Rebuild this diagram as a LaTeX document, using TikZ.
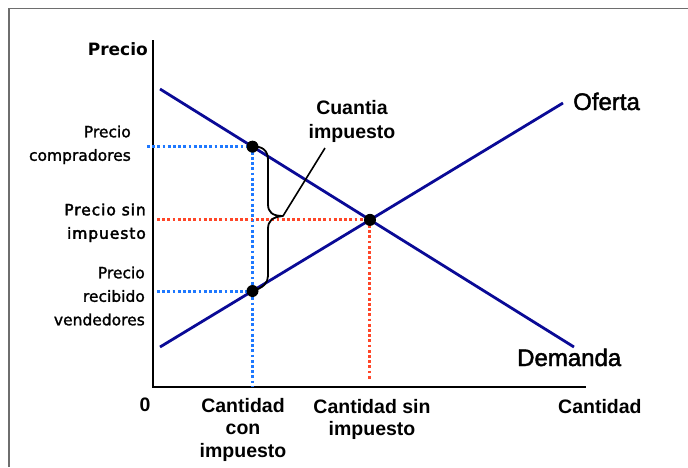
\documentclass[tikz,border=0pt]{standalone}
\usepackage{fontspec}
\setmainfont{Liberation Sans}
\newfontfamily\dejavu{DejaVu Sans}
\newfontfamily\dejavumed[FakeBold=1.5]{DejaVu Sans}
\newfontfamily\dejavusp[FakeBold=2.5,LetterSpace=6]{DejaVu Sans}
\newfontfamily\libmed[FakeBold=1.8]{Liberation Sans}
\usetikzlibrary{intersections}
\definecolor{curvecol}{RGB}{10,10,150}
\definecolor{bluedotcol}{RGB}{30,120,255}
\definecolor{reddotcol}{RGB}{255,70,40}
\definecolor{framecol}{RGB}{110,110,110}
\tikzset{
  framestyle/.style={draw=framecol, line width=1.6pt},
  axisstyle/.style={draw=black, line width=2.6pt},
  curvestyle/.style={draw=curvecol, line width=2.8pt},
  bluedots/.style={draw=bluedotcol, line width=3pt, dash pattern=on 2.8pt off 2.4pt},
  reddots/.style={draw=reddotcol, line width=3pt, dash pattern=on 2.8pt off 2.4pt},
  ptdot/.style={circle, fill=black, inner sep=0pt, minimum size=12pt},
  bracestyle/.style={draw=black, line width=1.8pt, line join=round},
  leftlbl/.style={font=\dejavumed\fontsize{15.5}{23.5}\selectfont, align=right, anchor=north east, inner sep=0pt},
  leftlblb/.style={font=\dejavusp\fontsize{15.5}{23.5}\selectfont, align=right, anchor=north east, inner sep=0pt},
  botlbl/.style={font=\bfseries\fontsize{19.5}{22.5}\selectfont, align=center, anchor=north, inner sep=0pt},
  biglbl/.style={font=\libmed\fontsize{24}{28}\selectfont, anchor=base west, inner sep=0pt}
}
\begin{document}
\begin{tikzpicture}[x=1pt,y=-1pt]
\useasboundingbox (0,0) rectangle (688,467);
% frame
\draw[framestyle] (9,467) -- (9,8.5) -- (688,8.5);
% axes
\coordinate (ytop) at (153,40);
\coordinate (orig) at (153,387);
\coordinate (xend) at (586,387);
\draw[axisstyle] (ytop) -- (orig) -- (xend);
% curves
\coordinate (d1) at (160,89);
\coordinate (d2) at (574,347);
\coordinate (s1) at (160,347);
\coordinate (s2) at (563,103);
\draw[curvestyle, name path=dem] (d1) -- (d2);
\draw[curvestyle, name path=sup] (s1) -- (s2);
\path[name path=vq] (252.5,60) -- (252.5,400);
\path[name intersections={of=dem and sup, by=e}];
\path[name intersections={of=dem and vq, by=a}];
\path[name intersections={of=sup and vq, by=b}];
% guide coordinates
\coordinate (bl1) at (147,0);
\coordinate (bl2) at (157,0);
\coordinate (rl) at (157,0);
\coordinate (rbot) at (0,380);
% dotted lines
\draw[bluedots] (bl1 |- a) -- (a);
\draw[bluedots] (a) -- (a |- orig);
\draw[bluedots] (bl2 |- b) -- (b);
\draw[reddots] (rl |- e) -- (e);
\draw[reddots] (e) -- (e |- rbot);
% points
\node[ptdot] (A) at (a) {};
\node[ptdot] (B) at (b) {};
\node[ptdot] (E) at (e) {};
% brace
\coordinate (T) at (283,216);
\coordinate (L) at (325,148);
\draw[bracestyle] (A.center) .. controls (262,146) and (268,150) .. (268,160)
  -- (268,204) .. controls (268,212) and (272,216) .. (T)
  .. controls (272,217) and (268,221) .. (268,229)
  -- (268,276) .. controls (268,283) and (263,288) .. (B.center);
\draw[black, line width=1.6pt] (T) -- (L);
% labels
\node[font=\dejavu\bfseries\fontsize{17}{20}\selectfont, anchor=base east, inner sep=0pt] (precio) at (148,55) {Precio};
\node[leftlbl] (pcomp) at (131,125.3) {Precio\\compradores};
\node[leftlblb] (psin) at (146,203.3) {Precio sin\\impuesto};
\node[leftlbl] (pvend) at (145,266.3) {Precio\\recibido\\vendedores};
\node[font=\bfseries\fontsize{19.5}{22}\selectfont, anchor=base, inner sep=0pt] (cero) at (145,411) {0};
\node[botlbl] (qcon) at (243,398) {Cantidad\\con\\impuesto};
\node[botlbl, font=\bfseries\fontsize{19.5}{22}\selectfont] (qsin) at (372,399) {Cantidad sin\\impuesto};
\node[font=\bfseries\fontsize{19.5}{22}\selectfont, anchor=base west, inner sep=0pt] (qty) at (558,413) {Cantidad};
\node[botlbl, font=\bfseries\fontsize{19.5}{24}\selectfont] (cuantia) at (352,100) {Cuantia\\impuesto};
\node[biglbl] (oferta) at (573,110) {Oferta};
\node[biglbl] (demanda) at (517,366) {Demanda};
\end{tikzpicture}
\end{document}
